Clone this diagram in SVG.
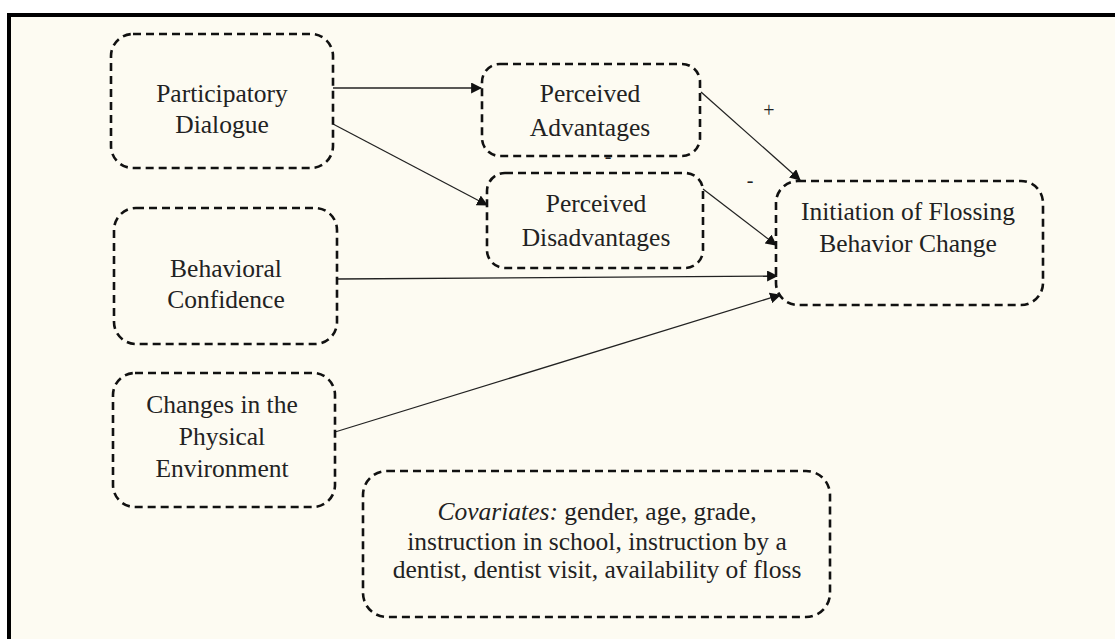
<svg xmlns="http://www.w3.org/2000/svg" width="1115" height="639" viewBox="0 0 1115 639">
<style>
.box{fill:none;stroke:#111;stroke-width:2.6;stroke-dasharray:8 5}
.t{font-family:"Liberation Serif","Times New Roman",serif;font-size:25.5px;fill:#222;text-anchor:middle}
.c{stroke:#222;stroke-width:1.3;fill:none;marker-end:url(#ah)}
.lbl{font-family:"Liberation Serif","Times New Roman",serif;font-size:20px;fill:#222;text-anchor:middle}
</style>
<defs>
<marker id="ah" viewBox="0 0 10 10" refX="9" refY="5" markerWidth="11" markerHeight="11" markerUnits="userSpaceOnUse" orient="auto">
<path d="M0,0 L10,5 L0,10 z" fill="#111"/>
</marker>
</defs>
<rect x="0" y="0" width="1115" height="639" fill="#ffffff"/>
<rect x="9" y="15" width="1120" height="640" fill="#fdfbf2" stroke="#000" stroke-width="4"/>
<g id="connectors">
<line class="c" x1="333" y1="88" x2="481" y2="88"/>
<line class="c" x1="333" y1="124" x2="487" y2="205"/>
<line class="c" x1="701" y1="92" x2="800" y2="180"/>
<line class="c" x1="703" y1="189" x2="776" y2="245"/>
<line class="c" x1="337" y1="279" x2="777" y2="276"/>
<line class="c" x1="335" y1="432" x2="780" y2="295"/>
<text class="lbl" x="769" y="117">+</text>
<text class="lbl" x="750" y="187">-</text>
<text class="lbl" x="608" y="163">-</text>
</g>
<g id="participatory-dialogue">
<rect class="box" x="111" y="34" width="222" height="134" rx="22"/>
<text class="t" x="222" y="102">Participatory</text>
<text class="t" x="222" y="133">Dialogue</text>
</g>
<g id="perceived-advantages">
<rect class="box" x="482" y="64" width="218" height="92" rx="18"/>
<text class="t" x="590" y="102">Perceived</text>
<text class="t" x="590" y="136">Advantages</text>
</g>
<g id="perceived-disadvantages">
<rect class="box" x="487" y="173" width="216" height="95" rx="18"/>
<text class="t" x="596" y="212">Perceived</text>
<text class="t" x="596" y="246">Disadvantages</text>
</g>
<g id="initiation">
<rect class="box" x="776" y="181" width="267" height="124" rx="22"/>
<text class="t" x="908" y="220">Initiation of Flossing</text>
<text class="t" x="908" y="252">Behavior Change</text>
</g>
<g id="behavioral-confidence">
<rect class="box" x="114" y="208" width="223" height="136" rx="22"/>
<text class="t" x="226" y="277">Behavioral</text>
<text class="t" x="226" y="308">Confidence</text>
</g>
<g id="physical-environment">
<rect class="box" x="113" y="373" width="222" height="134" rx="22"/>
<text class="t" x="222" y="413">Changes in the</text>
<text class="t" x="222" y="445">Physical</text>
<text class="t" x="222" y="477">Environment</text>
</g>
<g id="covariates">
<rect class="box" x="363" y="471" width="467" height="146" rx="24"/>
<text class="t" x="597" y="520"><tspan font-style="italic">Covariates:</tspan> gender, age, grade,</text>
<text class="t" x="597" y="550">instruction in school, instruction by a</text>
<text class="t" x="597" y="578">dentist, dentist visit, availability of floss</text>
</g>
</svg>
